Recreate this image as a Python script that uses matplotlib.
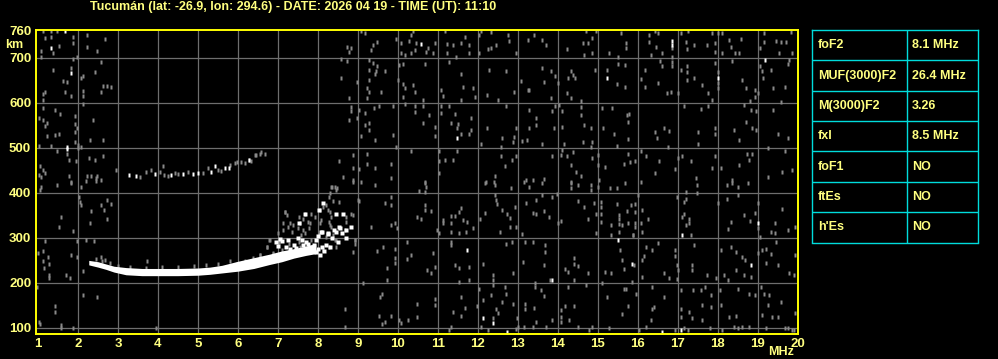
import numpy as np
import matplotlib
matplotlib.use('Agg')
import matplotlib.pyplot as plt

# ---- header / table text
title = "Tucumán (lat: -26.9, lon: 294.6) - DATE: 2026 04 19 - TIME (UT): 11:10"
param_names = ["foF2", "MUF(3000)F2", "M(3000)F2", "fxl", "foF1", "ftEs", "h'Es"]
param_values = ["8.1 MHz", "26.4 MHz", "3.26", "8.5 MHz", "NO", "NO", "NO"]

freq_ticks = list(range(1, 21))
height_ticks = [100, 200, 300, 400, 500, 600, 700, 760]

# ---- F2 trace (solid band), lower / upper edge in km
trace_freq = [2.27, 2.5, 2.7, 2.9, 3.2, 3.6, 4.0, 4.5, 5.0, 5.3, 5.6, 6.0, 6.4, 6.8, 7.1, 7.4, 7.7, 7.95]
trace_low = [240, 235, 230, 224, 218, 216, 216, 216, 217, 219, 222, 226, 232, 241, 247, 255, 261, 265]
trace_high = [250, 247, 242, 237, 234, 232, 232, 232, 233, 235, 239, 248, 256, 264, 271, 276, 282, 287]

trace_edge = [(2.45, 252), (2.6, 249), (2.67, 250), (2.8, 244), (3.0, 238), (3.3, 236), (3.7, 234),
              (4.1, 235), (4.5, 236), (4.9, 237), (5.2, 240), (5.5, 243), (5.8, 248), (5.97, 243),
              (6.18, 249), (6.39, 256), (6.56, 261), (6.72, 280), (6.89, 266), (3.72, 249)]

# spread F near the cusp
cusp_white = [(6.95, 290), (7.05, 298), (7.1, 292), (7.2, 280), (7.3, 275), (7.5, 300), (7.6, 295),
              (7.75, 287), (7.85, 280), (8.0, 305), (8.1, 312), (8.25, 308), (8.4, 318), (8.55, 322),
              (8.83, 324), (8.7, 300), (8.5, 290), (8.2, 285), (8.0, 275), (7.9, 270), (8.05, 262),
              (8.3, 280), (7.65, 268), (8.12, 378), (8.02, 363), (8.46, 354), (8.62, 354), (8.54, 324),
              (8.08, 313), (8.25, 311), (8.46, 313), (7.96, 295), (7.63, 284), (7.8, 276), (7.96, 269),
              (7.54, 332), (7.67, 354), (7.4, 285), (7.45, 278), (7.7, 290), (7.9, 285), (8.1, 280),
              (8.15, 270), (8.35, 300), (8.6, 310), (8.7, 318), (7.25, 295), (7.0, 282)]
cusp_gray = [(8.33, 412), (8.42, 412), (8.46, 407), (8.29, 391), (8.54, 380), (8.39, 382), (8.21, 373),
             (8.12, 369), (8.25, 362), (7.83, 354), (7.92, 347), (8.33, 347), (8.71, 347), (8.88, 350),
             (7.63, 343), (7.75, 336), (8.08, 339), (8.29, 336), (8.71, 336), (7.54, 347), (7.5, 321),
             (7.63, 317), (7.79, 321), (8.33, 324), (8.67, 317), (8.38, 306), (8.21, 302), (8.46, 295),
             (8.29, 280), (8.46, 280), (8.12, 273), (7.83, 295), (7.58, 306), (7.54, 291), (8.92, 295),
             (8.92, 287), (8.35, 413), (8.47, 410), (8.31, 399), (8.89, 425), (9.0, 384), (7.18, 358),
             (7.68, 354), (8.06, 362), (8.31, 358), (7.31, 332), (7.56, 332), (7.81, 332), (8.06, 332),
             (8.31, 328), (7.14, 317), (7.35, 313), (7.68, 310), (8.02, 306), (6.81, 295), (7.02, 291),
             (7.27, 287), (7.56, 280), (7.1, 273), (7.43, 269), (6.72, 280), (6.89, 265), (6.56, 261),
             (8.43, 295), (8.93, 295), (8.89, 269), (7.19, 358), (7.22, 350), (7.12, 332), (7.25, 325),
             (7.38, 328), (7.0, 310), (6.79, 295)]

# second hop F2 trace
hop2_white = [(3.27, 440), (3.44, 438), (3.92, 442), (4.33, 440), (4.62, 441), (4.87, 442), (5.0, 445),
              (5.33, 447), (5.43, 460), (5.67, 455), (5.79, 456), (6.29, 473)]
hop2_gray = [(3.54, 436), (3.71, 446), (3.83, 450), (4.04, 447), (4.14, 440), (4.25, 438), (4.42, 444),
             (4.5, 442), (4.75, 446), (5.12, 445), (5.25, 456), (5.5, 451), (5.58, 449), (5.81, 462),
             (5.94, 466), (6.08, 468), (6.17, 466), (6.33, 470), (6.46, 484), (6.58, 490), (6.67, 486),
             (5.98, 469), (6.27, 473), (6.43, 484), (6.56, 487)]

# background noise, 1-7 MHz
noise_low_f = [(1.12, 760), (1.33, 760), (1.47, 760), (1.87, 746), (2.22, 751), (2.68, 742), (1.17, 744),
               (1.33, 747), (1.52, 727), (1.08, 716), (1.37, 710), (1.08, 703), (1.87, 733), (2.22, 724),
               (2.47, 716), (1.87, 698), (1.97, 701), (2.58, 690), (1.37, 673), (1.83, 677), (1.62, 649),
               (1.72, 646), (2.08, 655), (2.12, 659), (2.43, 668), (2.62, 638), (2.72, 638), (2.83, 635),
               (2.12, 627), (1.68, 624), (1.83, 616), (2.58, 625), (1.17, 624), (1.12, 619), (1.12, 607),
               (2.12, 616), (2.12, 597), (1.12, 588), (1.43, 584), (1.54, 575), (1.93, 570), (1.02, 566),
               (1.12, 562), (1.22, 555), (1.18, 549), (1.93, 553), (1.97, 544), (2.38, 562), (1.93, 535),
               (1.23, 527), (1.43, 529), (1.52, 530), (1.93, 514), (2.0, 507), (2.29, 518), (2.62, 518),
               (1.33, 504), (1.02, 504), (1.47, 493), (1.72, 486), (2.0, 499), (2.08, 501), (2.27, 477),
               (2.43, 473), (2.62, 482), (1.78, 473), (1.96, 470), (1.04, 460), (1.12, 451), (1.18, 444),
               (1.02, 440), (1.08, 436), (1.78, 438), (2.22, 438), (2.33, 438), (2.47, 438), (2.58, 429),
               (2.44, 433), (1.83, 424), (2.96, 451), (4.12, 460), (1.04, 406), (1.08, 412), (1.48, 417),
               (1.83, 422), (2.08, 412), (2.03, 391), (2.04, 380), (2.08, 373), (2.33, 360), (2.58, 373),
               (2.72, 385), (2.83, 376), (2.64, 363), (2.73, 341), (2.29, 333), (1.58, 347), (1.52, 324),
               (1.87, 316), (2.19, 296), (2.39, 293), (1.97, 293), (1.18, 293), (1.0, 267), (1.12, 271),
               (1.25, 258), (1.12, 248), (1.27, 243), (1.83, 261), (1.97, 258), (1.14, 232), (1.27, 217),
               (1.27, 210), (1.69, 217), (1.79, 211), (2.12, 227), (0.98, 191), (2.12, 173), (2.48, 169),
               (1.43, 148), (1.43, 136), (1.02, 113), (1.05, 108), (1.58, 106), (1.58, 99), (1.87, 100),
               (2.19, 426), (2.44, 426), (3.96, 100), (2.58, 258)]
noise_low_white = [(1.67, 760), (1.33, 723), (1.83, 666), (1.72, 501), (1.72, 497)]

# background noise, 7.5-14 MHz
noise_mid_f = [(9.08, 760), (9.18, 755), (10.37, 760), (11.18, 760), (12.08, 760), (12.33, 757),
               (10.33, 751), (11.67, 746), (12.04, 750), (12.77, 751), (13.42, 751), (13.27, 740),
               (13.62, 740), (13.71, 729), (9.37, 729), (9.48, 735), (9.96, 742), (10.29, 738),
               (10.46, 733), (10.08, 733), (10.75, 723), (10.92, 733), (11.23, 730), (11.38, 729),
               (11.58, 733), (11.79, 729), (12.25, 720), (12.33, 723), (12.47, 729), (12.79, 738),
               (8.73, 724), (8.83, 723), (8.77, 714), (9.32, 718), (10.08, 710), (10.17, 707), (10.33, 710),
               (10.44, 718), (10.71, 713), (10.88, 710), (11.23, 710), (11.46, 701), (11.79, 710),
               (12.04, 710), (12.96, 710), (8.58, 697), (8.73, 692), (9.29, 696), (9.37, 688), (9.47, 681),
               (9.46, 671), (9.42, 665), (9.27, 673), (9.68, 670), (10.04, 684), (10.12, 687), (10.68, 687),
               (11.28, 690), (11.58, 664), (12.28, 673), (12.72, 670), (13.08, 649), (13.29, 629),
               (13.62, 677), (13.83, 671), (13.67, 647), (13.93, 659), (8.58, 655), (8.99, 647), (9.27, 651),
               (9.23, 633), (9.27, 624), (9.58, 625), (9.23, 610), (8.77, 610), (10.0, 651), (10.12, 641),
               (10.37, 640), (10.18, 633), (10.43, 624), (10.12, 614), (10.62, 607), (11.08, 629),
               (11.12, 616), (11.62, 636), (11.87, 633), (11.94, 614), (11.57, 607), (12.23, 618),
               (12.52, 607), (12.92, 624), (13.25, 629), (13.83, 610), (8.83, 590), (9.02, 584), (9.17, 577),
               (9.4, 588), (9.52, 594), (8.83, 581), (8.77, 562), (8.98, 566), (9.27, 556), (9.17, 551),
               (9.27, 540), (9.07, 527), (9.43, 518), (9.88, 592), (9.88, 529), (9.96, 503), (10.17, 597),
               (10.43, 594), (10.43, 579), (10.62, 594), (10.79, 573), (10.62, 555), (10.92, 546),
               (10.92, 527), (11.08, 594), (11.08, 577), (11.28, 592), (11.42, 575), (11.33, 555),
               (11.5, 553), (11.48, 544), (11.58, 530), (11.79, 530), (11.83, 566), (11.83, 540),
               (12.08, 508), (12.23, 544), (12.58, 503), (12.62, 521), (12.72, 592), (12.92, 525),
               (12.88, 513), (12.96, 544), (13.12, 516), (13.23, 518), (13.29, 584), (13.47, 566),
               (13.47, 550), (13.29, 544), (13.62, 508), (13.92, 544), (13.93, 592), (13.87, 581),
               (8.54, 470), (8.88, 484), (9.23, 486), (9.23, 464), (9.02, 453), (8.88, 455), (8.62, 436),
               (8.88, 429), (9.43, 455), (9.83, 464), (9.83, 433), (10.33, 492), (10.67, 424), (11.02, 492),
               (11.02, 470), (11.02, 444), (11.18, 473), (11.48, 493), (11.38, 473), (12.58, 481),
               (12.69, 460), (12.86, 473), (12.96, 481), (12.44, 438), (12.21, 424), (12.42, 424),
               (13.21, 429), (13.38, 429), (13.67, 431), (13.87, 483), (9.43, 417), (9.69, 378), (9.83, 391),
               (9.83, 373), (9.93, 332), (9.83, 328), (9.97, 321), (10.67, 421), (10.71, 413), (10.67, 402),
               (10.52, 405), (10.67, 373), (10.67, 362), (10.83, 360), (10.47, 347), (10.58, 343),
               (10.97, 317), (11.12, 339), (11.14, 332), (11.33, 332), (11.33, 348), (11.44, 349),
               (11.57, 367), (11.54, 358), (11.62, 339), (11.73, 336), (11.87, 321), (11.04, 310),
               (11.33, 313), (11.54, 310), (11.71, 313), (12.19, 422), (12.43, 417), (12.83, 410),
               (13.17, 425), (13.29, 412), (13.62, 422), (12.43, 395), (12.48, 375), (12.19, 356),
               (12.06, 343), (12.62, 363), (12.73, 354), (12.82, 344), (12.82, 324), (12.57, 313),
               (12.93, 369), (12.96, 324), (13.12, 308), (13.21, 378), (13.38, 356), (13.47, 354),
               (13.47, 385), (13.67, 360), (13.79, 347), (13.62, 395), (13.87, 391), (10.22, 291),
               (10.22, 254), (9.48, 271), (9.62, 280), (9.93, 276), (9.93, 256), (9.93, 245), (9.72, 232),
               (9.72, 206), (10.33, 261), (10.87, 267), (10.73, 228), (10.83, 222), (10.94, 236),
               (11.32, 291), (11.32, 284), (11.42, 239), (11.53, 232), (11.53, 202), (11.79, 236),
               (11.77, 206), (12.12, 243), (12.37, 217), (12.37, 206), (12.37, 195), (12.02, 187),
               (12.46, 384), (12.71, 287), (12.86, 291), (12.88, 221), (13.14, 247), (13.19, 290),
               (13.38, 290), (13.68, 284), (13.68, 269), (13.82, 206), (13.67, 239), (13.44, 199),
               (8.67, 141), (8.68, 102), (9.12, 199), (9.61, 176), (9.56, 169), (9.52, 126), (9.61, 108),
               (9.67, 113), (9.83, 126), (10.04, 117), (10.08, 110), (10.25, 118), (10.47, 153),
               (10.47, 124), (10.94, 165), (10.94, 150), (11.27, 95), (11.37, 136), (11.58, 169),
               (11.58, 126), (11.69, 145), (11.98, 148), (12.12, 163), (12.33, 173), (12.37, 121),
               (12.46, 143), (12.52, 132), (12.68, 191), (12.72, 176), (12.62, 158), (12.88, 154),
               (12.98, 121), (13.02, 102), (12.96, 98), (13.19, 153), (13.19, 141), (13.42, 145),
               (13.44, 191), (13.47, 113), (13.58, 184), (13.67, 170), (13.71, 102), (13.87, 117),
               (12.08, 102), (12.25, 95), (13.17, 102), (13.38, 102), (11.33, 102), (9.08, 425),
               (9.02, 382), (8.83, 354), (9.33, 324)]
noise_mid_white = [(10.58, 730), (11.48, 523), (11.73, 273), (13.87, 207), (12.12, 123), (12.37, 110),
                   (12.73, 91)]

# background noise, 14-20 MHz
noise_high_f = [(14.72, 760), (14.97, 760), (15.58, 755), (16.43, 760), (16.52, 755), (16.87, 722),
                (17.08, 755), (17.27, 760), (17.87, 755), (18.02, 755), (18.12, 755), (18.29, 740),
                (18.33, 725), (18.58, 742), (19.17, 755), (19.17, 736), (19.47, 738), (19.58, 735),
                (19.71, 736), (19.83, 757), (19.86, 710), (14.87, 745), (14.64, 733), (14.75, 733),
                (15.72, 733), (15.72, 722), (16.29, 751), (16.29, 735), (16.47, 725), (16.33, 707),
                (16.62, 710), (17.21, 736), (17.23, 720), (17.42, 729), (17.73, 729), (17.93, 733),
                (17.94, 714), (18.12, 710), (18.44, 710), (18.53, 710), (19.06, 723), (19.54, 710),
                (14.23, 720), (14.67, 707), (14.87, 710), (15.29, 710), (15.5, 701), (14.33, 670),
                (14.38, 662), (14.44, 655), (14.25, 655), (14.02, 644), (14.23, 622), (14.33, 610),
                (14.94, 673), (15.23, 673), (15.52, 687), (15.68, 684), (15.48, 641), (15.68, 636),
                (16.57, 692), (16.61, 681), (16.87, 701), (16.87, 690), (16.87, 681), (16.08, 653),
                (16.18, 673), (16.18, 636), (16.52, 644), (16.73, 621), (16.83, 625), (17.02, 621),
                (17.08, 673), (17.23, 681), (17.23, 668), (17.23, 651), (17.42, 655), (17.62, 639),
                (17.77, 621), (17.87, 607), (17.94, 688), (18.02, 668), (18.02, 644), (18.02, 634),
                (18.37, 692), (18.62, 651), (18.72, 633), (18.82, 604), (18.93, 629), (18.93, 614),
                (19.02, 621), (19.06, 683), (19.12, 670), (19.33, 673), (19.38, 633), (19.68, 636),
                (19.77, 686), (19.79, 696), (19.58, 603), (19.14, 655), (14.04, 596), (14.58, 604),
                (14.58, 590), (14.12, 581), (14.12, 546), (14.58, 572), (14.65, 551), (14.83, 544),
                (14.64, 513), (14.86, 513), (14.83, 503), (14.17, 508), (15.12, 588), (15.37, 588),
                (15.14, 545), (15.42, 530), (15.73, 573), (15.79, 575), (15.77, 557), (15.77, 520),
                (15.48, 504), (16.43, 535), (16.67, 545), (16.79, 538), (16.48, 521), (16.77, 503),
                (17.17, 592), (17.58, 587), (17.77, 592), (17.52, 535), (17.52, 508), (17.93, 544),
                (17.93, 530), (18.42, 540), (18.53, 518), (18.65, 596), (18.83, 584), (18.96, 581),
                (18.72, 557), (18.87, 545), (18.96, 540), (19.38, 584), (19.52, 530), (19.77, 521),
                (19.27, 499), (14.12, 496), (14.08, 484), (14.23, 483), (14.38, 490), (14.33, 462),
                (14.47, 447), (14.58, 438), (14.87, 477), (15.02, 484), (15.02, 462), (15.19, 458),
                (15.77, 486), (15.67, 464), (15.82, 468), (15.93, 471), (16.08, 492), (16.22, 481),
                (16.43, 444), (16.54, 471), (16.94, 453), (17.02, 477), (17.12, 481), (17.33, 470),
                (17.47, 433), (17.87, 455), (17.94, 481), (18.08, 455), (18.37, 429), (18.54, 462),
                (18.73, 486), (18.87, 486), (18.78, 473), (19.27, 436), (19.62, 447), (19.69, 492),
                (19.87, 451), (14.33, 424), (15.04, 429), (14.33, 422), (14.5, 417), (14.33, 410),
                (14.83, 417), (14.83, 406), (15.02, 413), (15.31, 410), (15.48, 410), (15.68, 421),
                (16.08, 425), (17.21, 402), (17.21, 387), (17.48, 417), (17.48, 399), (18.23, 417),
                (18.37, 422), (18.5, 413), (18.77, 422), (13.98, 397), (14.5, 382), (14.67, 369),
                (14.92, 378), (15.08, 380), (15.08, 369), (15.08, 354), (15.08, 336), (14.97, 354),
                (14.97, 310), (14.75, 343), (14.08, 338), (14.0, 332), (15.48, 375), (15.73, 360),
                (15.83, 373), (15.93, 376), (16.0, 395), (15.93, 358), (16.1, 362), (15.54, 350),
                (15.54, 343), (15.33, 328), (15.54, 330), (15.62, 328), (15.75, 332), (15.93, 333),
                (15.93, 324), (16.12, 313), (15.54, 313), (15.33, 306), (15.88, 306), (16.25, 343),
                (16.08, 332), (16.98, 391), (17.17, 380), (17.17, 354), (17.12, 347), (17.29, 343),
                (17.29, 332), (17.21, 328), (17.33, 306), (18.02, 378), (18.23, 387), (18.52, 395),
                (18.67, 350), (18.82, 337), (18.94, 356), (19.02, 378), (19.02, 322), (18.33, 336),
                (18.25, 319), (19.44, 333), (19.33, 313), (19.44, 310), (19.62, 365), (19.77, 317),
                (19.94, 325), (19.46, 291), (19.06, 302), (15.57, 273), (15.62, 250), (15.89, 306),
                (16.21, 280), (16.37, 273), (16.17, 259), (16.52, 289), (16.93, 274), (16.93, 259),
                (16.79, 210), (16.67, 221), (16.99, 239), (17.02, 228), (16.98, 208), (17.37, 239),
                (17.37, 228), (17.42, 284), (17.73, 217), (17.96, 210), (18.08, 274), (18.33, 280),
                (18.46, 269), (18.62, 258), (18.69, 250), (18.46, 228), (18.83, 213), (18.67, 217),
                (18.15, 217), (18.25, 206), (19.0, 267), (19.22, 276), (19.33, 265), (19.22, 244),
                (19.52, 239), (19.79, 221), (19.92, 217), (19.94, 261), (19.12, 274), (14.42, 256),
                (14.42, 243), (14.52, 237), (14.19, 230), (14.27, 224), (14.77, 222), (14.42, 206),
                (14.72, 195), (14.27, 191), (15.19, 224), (15.33, 221), (15.67, 230), (15.92, 239),
                (16.11, 250), (16.11, 213), (15.87, 202), (15.12, 199), (15.67, 187), (15.96, 176),
                (16.37, 191), (16.4, 147), (16.67, 169), (16.33, 117), (16.21, 102), (17.08, 184),
                (17.08, 143), (17.08, 124), (17.29, 136), (17.37, 121), (17.17, 99), (17.39, 184),
                (17.58, 184), (17.69, 190), (17.62, 150), (17.83, 173), (17.83, 147), (17.62, 117),
                (17.82, 99), (18.08, 150), (18.07, 184), (18.29, 124), (18.46, 126), (18.52, 187),
                (18.79, 176), (18.79, 102), (18.94, 173), (19.08, 191), (19.12, 128), (19.17, 176),
                (19.27, 150), (19.29, 173), (19.36, 124), (19.52, 124), (19.58, 158), (19.75, 99),
                (19.87, 96), (19.94, 132), (14.18, 148), (14.42, 148), (14.08, 139), (14.08, 124),
                (14.08, 113), (14.29, 117), (14.5, 102), (14.79, 95), (14.87, 102), (15.29, 99),
                (15.62, 130), (15.71, 187), (15.77, 148), (15.23, 169), (16.04, 95), (16.37, 143),
                (16.94, 96), (17.27, 95), (18.12, 95), (18.42, 102), (18.52, 99), (18.62, 102),
                (19.21, 99), (19.69, 99), (19.9, 96)]
noise_high_white = [(16.87, 738), (16.87, 729), (15.23, 655), (18.02, 655), (19.18, 696), (19.02, 332),
                    (17.12, 306), (15.5, 295), (15.87, 243), (18.83, 239), (16.62, 91), (17.08, 95)]

YEL = '#ffff80'
GRAY = '#8a8a8a'
CYAN = '#00dcdc'
FONT = dict(family='Liberation Sans', fontweight='bold', fontsize=9, color=YEL)

W, H = 998, 359
fig = plt.figure(figsize=(W / 100, H / 100), dpi=100, facecolor='black')

# main ionogram axes (pixel box 36..797 x 29.5..333.5)
ax = fig.add_axes([36 / W, (H - 333.5) / H, (797.5 - 36) / W, (333.5 - 29.5) / H])
ax.set_facecolor('black')
ax.set_xlim(0.95, 19.99)
ax.set_ylim(87.5, 763)

for f in range(2, 20):
    ax.axvline(f, color='#6e6e6e', lw=0.9, zorder=1)
for h in range(100, 701, 100):
    ax.axhline(h, color='#6e6e6e', lw=0.9, zorder=1)

bar = [(-1, -1.3), (1, -1.3), (1, 1.3), (-1, 1.3)]


def speckle(pts, color, ms=2.6):
    arr = np.array(pts)
    ax.plot(arr[:, 0], arr[:, 1], ls='none', marker=bar, ms=ms, mfc=color, mec='none', zorder=3)


speckle(noise_low_f, GRAY)
speckle(noise_mid_f, GRAY)
speckle(noise_high_f, GRAY)
speckle(noise_low_white, 'white')
speckle(noise_mid_white, 'white')
speckle(noise_high_white, 'white')

speckle(hop2_gray, GRAY, 2.5)
speckle(hop2_white, 'white', 2.5)

ax.fill_between(trace_freq, trace_low, trace_high, color='white', lw=0, zorder=4)
speckle(trace_edge, GRAY, 2.5)
speckle(cusp_gray, GRAY, 2.6)
speckle(cusp_white, 'white', 3.0)

for s in ax.spines.values():
    s.set_color('#ffff00')
    s.set_linewidth(1.4)
    s.set_zorder(6)

ax.set_xticks(freq_ticks)
ax.set_xticklabels([str(v) for v in freq_ticks])
ax.set_yticks(height_ticks)
ax.set_yticklabels([str(v) for v in height_ticks])
ax.tick_params(length=0, pad=3.5)
for lab in ax.get_xticklabels() + ax.get_yticklabels():
    lab.set_fontfamily('Liberation Sans')
    lab.set_fontweight('bold')
    lab.set_fontsize(9.5)
    lab.set_color(YEL)

fig.text(90 / W, 1 - 7 / H, title, va='center', ha='left', **FONT)
fig.text(5 / W, 1 - 45 / H, 'km', va='center', ha='left', **FONT)
fig.text(768 / W, 1 - 352 / H, 'MHz', va='center', ha='left', **FONT)

# parameter table
tax = fig.add_axes([812 / W, (H - 242.5) / H, (977.5 - 812) / W, (242.5 - 30) / H])
tax.set_facecolor('black')
tax.set_xlim(0, 1)
tax.set_ylim(len(param_names), 0)
tax.set_xticks([])
tax.set_yticks([])
for s in tax.spines.values():
    s.set_color(CYAN)
    s.set_linewidth(1.0)
for i in range(1, len(param_names)):
    tax.axhline(i, color=CYAN, lw=1.0)
tax.axvline(0.576, color=CYAN, lw=1.0)
for i, (name, val) in enumerate(zip(param_names, param_values)):
    tax.text(0.034, i + 0.5, name, va='center', ha='left', **FONT)
    tax.text(0.604, i + 0.5, val, va='center', ha='left', **FONT)

fig.savefig('out.png', dpi=100, facecolor='black')
